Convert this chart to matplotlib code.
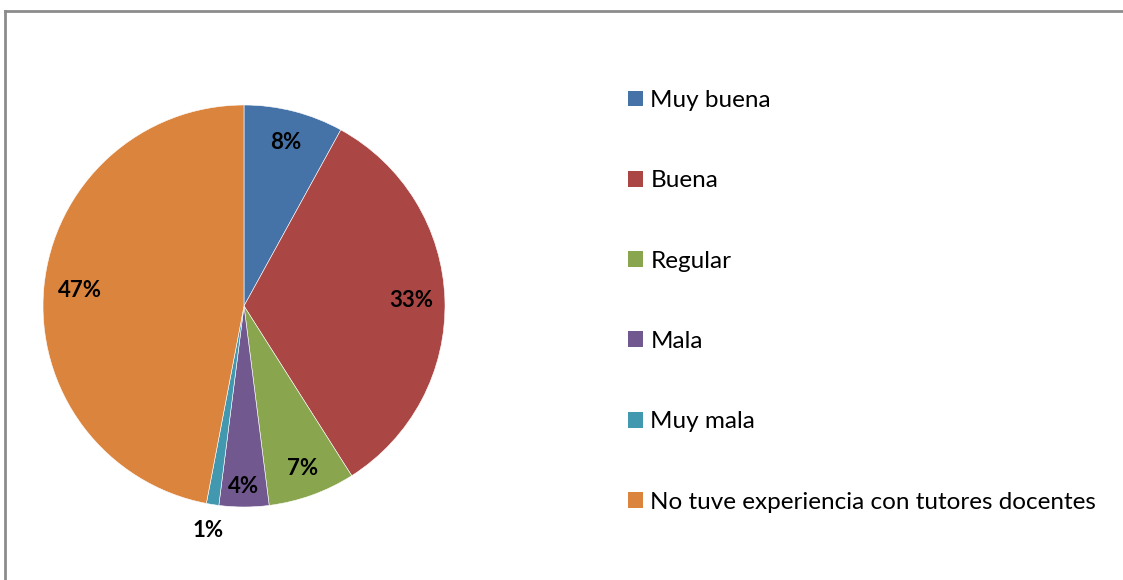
import numpy as np
import matplotlib.pyplot as plt
from matplotlib.lines import Line2D

categories = ['Muy buena', 'Buena', 'Regular', 'Mala', 'Muy mala',
              'No tuve experiencia con tutores docentes']
values = [8, 33, 7, 4, 1, 47]
colors = ['#4572A7', '#AA4643', '#89A54E', '#71588F', '#4198AF', '#DB843D']
pct_dist = [0.84, 0.83, 0.86, 0.90, 1.13, 0.82]

plt.rcParams['font.family'] = ['Lato', 'DejaVu Sans']

W, H = 1123, 580
cx, cy, r = 244, H - 306, 201

fig = plt.figure(figsize=(W / 100, H / 100), dpi=100)
ax = fig.add_axes([0, 0, 1, 1])
ax.axis('off')

wedges, texts, autotexts = ax.pie(
    values, colors=colors, startangle=90, counterclock=False,
    center=(cx, cy), radius=r, autopct='%d%%',
    wedgeprops=dict(edgecolor='white', linewidth=0.4),
    textprops=dict(fontsize=16, fontweight='bold', color='black'))
ax.set_xlim(0, W)
ax.set_ylim(0, H)
ax.set_aspect('auto')

for w, t, d in zip(wedges, autotexts, pct_dist):
    ang = np.deg2rad((w.theta1 + w.theta2) / 2)
    t.set_position((cx + d * r * np.cos(ang), cy + d * r * np.sin(ang)))

# frame: only top and left edges are visible in the original
fig.add_artist(Line2D([5 / W, 5 / W], [0, (H - 11) / H], color='#8c8c8c', lw=2))
fig.add_artist(Line2D([5 / W, 1], [(H - 11) / H, (H - 11) / H], color='#8c8c8c', lw=2))

leg = ax.legend(wedges, categories, loc='upper left',
                bbox_to_anchor=(628 / W, (H - 90) / H), frameon=False,
                fontsize=17.5, handlelength=0.62, handleheight=0.62,
                handletextpad=0.3, labelspacing=2.44, borderpad=0,
                borderaxespad=0)
for p in leg.get_patches():
    p.set_edgecolor('none')

fig.savefig('out.png', dpi=100)
